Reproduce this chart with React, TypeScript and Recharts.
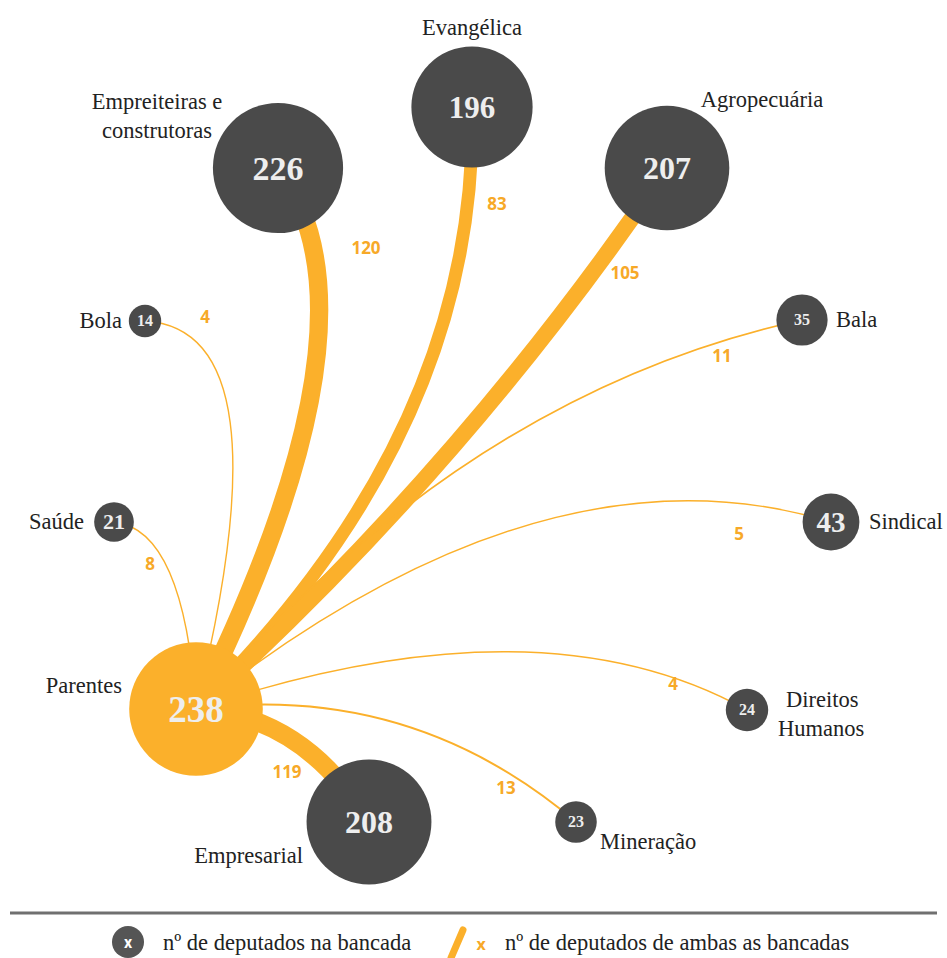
import { ComposedChart, XAxis, YAxis, ZAxis, Line, Scatter } from 'recharts'

// bancadas (node 0 is the hub "Parentes")
const names = [
  'Parentes',
  'Empreiteiras e construtoras',
  'Evangélica',
  'Agropecuária',
  'Bola',
  'Saúde',
  'Bala',
  'Sindical',
  'Direitos Humanos',
  'Mineração',
  'Empresarial',
]
const members = [238, 226, 196, 207, 14, 21, 35, 43, 24, 23, 208]
// layout of the diagram (x to the right, y downwards)
const layoutX = [196, 278, 472, 667, 145, 114, 802, 831, 747, 576, 369]
const layoutY = [709, 168, 107, 168, 321, 522, 320, 522, 710, 822, 822]

// deputies shared between Parentes and each other bancada (names[1..])
const shared = [120, 83, 105, 4, 8, 11, 5, 4, 13, 119]
// where each shared count is written
const sharedLabelX = [366, 497, 625, 205, 150, 722, 739, 673, 506, 287]
const sharedLabelY = [248, 204, 273, 317, 564, 356, 534, 684, 788, 772]

// curve shape of each link: position of the control point along the chord, and bend
const bendAlong = [0.76, 0.56, 0.5, 0.93, 0.83, 0.55, 0.62, 0.62, 0.5, 0.45]
const bendOut = [0.244, 0.214, 0.06, 0.364, 0.3, -0.167, -0.25, -0.21, -0.22, -0.26]

const ORANGE = '#fbb02b'
const LABEL_ORANGE = '#f7a928'
const DARK = '#4a4a4a'
const SERIF = '"Liberation Serif", "Times New Roman", serif'

const labelPlacement: Record<string, { anchor: string; dx: number[]; dy: number[]; lines: string[]; num: number }> = {
  Parentes: { anchor: 'end', dx: [-74], dy: [-23], lines: ['Parentes'], num: 37 },
  'Empreiteiras e construtoras': { anchor: 'middle', dx: [-121, -121], dy: [-66, -37], lines: ['Empreiteiras e', 'construtoras'], num: 34 },
  'Evangélica': { anchor: 'middle', dx: [0], dy: [-79], lines: ['Evangélica'], num: 31 },
  'Agropecuária': { anchor: 'middle', dx: [95], dy: [-68], lines: ['Agropecuária'], num: 32 },
  Bola: { anchor: 'end', dx: [-23], dy: [0], lines: ['Bola'], num: 16 },
  'Saúde': { anchor: 'end', dx: [-30], dy: [0], lines: ['Saúde'], num: 22 },
  Bala: { anchor: 'start', dx: [34], dy: [0], lines: ['Bala'], num: 16 },
  Sindical: { anchor: 'start', dx: [38], dy: [0], lines: ['Sindical'], num: 29 },
  'Direitos Humanos': { anchor: 'start', dx: [39, 31], dy: [-10, 19], lines: ['Direitos', 'Humanos'], num: 16 },
  'Mineração': { anchor: 'start', dx: [24], dy: [20], lines: ['Mineração'], num: 16 },
  Empresarial: { anchor: 'end', dx: [-66], dy: [34], lines: ['Empresarial'], num: 32 },
}

const nodes = names.map((name, i) => ({ name, x: layoutX[i], y: layoutY[i], size: members[i] }))
const links = shared.map((value, i) => ({
  value,
  along: bendAlong[i],
  out: bendOut[i],
  data: [nodes[0], nodes[i + 1]],
}))
const sharedLabels = shared.map((value, i) => ({ x: sharedLabelX[i], y: sharedLabelY[i], value }))

// quadratic curve from first to last point, bent sideways from the chord
const bentCurve = (along: number, out: number) => (context: any) => {
  let pts: number[][] = []
  return {
    areaStart() {},
    areaEnd() {},
    lineStart() {
      pts = []
    },
    point(x: number, y: number) {
      pts.push([x, y])
    },
    lineEnd() {
      if (pts.length < 2) return
      const [x0, y0] = pts[0]
      const [x1, y1] = pts[pts.length - 1]
      const dx = x1 - x0
      const dy = y1 - y0
      const len = Math.hypot(dx, dy)
      const nx = -dy / len
      const ny = dx / len
      const cx = x0 + along * dx + out * len * nx
      const cy = y0 + along * dy + out * len * ny
      context.moveTo(x0, y0)
      context.quadraticCurveTo(cx, cy, x1, y1)
    },
  }
}

const NodeShape = (props: any) => {
  const { cx, cy, payload } = props
  const r = props.width ? props.width / 2 : Math.sqrt((props.size ?? 0) / Math.PI)
  const place = labelPlacement[payload.name]
  const isHub = payload.name === names[0]
  return (
    <g>
      <circle cx={cx} cy={cy} r={r} fill={isHub ? ORANGE : DARK} />
      <text
        x={cx}
        y={cy + place.num * 0.34}
        textAnchor="middle"
        fontFamily={SERIF}
        fontWeight="bold"
        fontSize={place.num}
        fill="#eeeeee"
      >
        {payload.size}
      </text>
      {place.lines.map((line, k) => (
        <text
          key={k}
          x={cx + place.dx[k]}
          y={cy + place.dy[k] + 7}
          textAnchor={place.anchor}
          fontFamily={SERIF}
          fontSize={22.5}
          fill="#222"
        >
          {line}
        </text>
      ))}
    </g>
  )
}

const SharedLabel = (props: any) => (
  <text
    x={props.cx}
    y={props.cy + 6}
    textAnchor="middle"
    fontFamily='"Open Sans", sans-serif'
    fontWeight="bold"
    fontSize={17}
    fill={LABEL_ORANGE}
  >
    {props.payload.value}
  </text>
)

const LegendRow = () => (
  <svg width={947} height={958} style={{ position: 'absolute', left: 0, top: 0, pointerEvents: 'none' }}>
    <line x1={10} x2={937} y1={913} y2={913} stroke="#707070" strokeWidth={3} />
    <circle cx={128} cy={942} r={16} fill="#555" />
    <text x={128} y={948} textAnchor="middle" fontFamily="Roboto, sans-serif" fontWeight="bold" fontSize={16} fill="#fff">
      x
    </text>
    <text x={163} y={950} fontFamily={SERIF} fontSize={22.5} fill="#222">
      nº de deputados na bancada
    </text>
    <line x1={451} y1={958} x2={463} y2={930} stroke={ORANGE} strokeWidth={7} strokeLinecap="round" />
    <text x={481} y={950} textAnchor="middle" fontFamily='"Open Sans", sans-serif' fontWeight="bold" fontSize={16} fill={LABEL_ORANGE}>
      x
    </text>
    <text x={505} y={950} fontFamily={SERIF} fontSize={22.5} fill="#222">
      nº de deputados de ambas as bancadas
    </text>
  </svg>
)

export default function App() {
  return (
    <div style={{ position: 'absolute', left: 0, top: 0, width: 947, height: 958, background: '#fff' }}>
      <ComposedChart width={947} height={958} margin={{ top: 0, right: 0, bottom: 0, left: 0 }}>
        <XAxis type="number" dataKey="x" domain={[0, 947]} allowDataOverflow hide />
        <YAxis type="number" dataKey="y" domain={[0, 958]} allowDataOverflow reversed hide />
        <ZAxis type="number" dataKey="size" domain={[0, 238]} range={[0, 58.9 * 238]} />
        {links.map((l, i) => (
          <Line
            key={`link-${i}`}
            data={l.data}
            dataKey="y"
            type={bentCurve(l.along, l.out) as any}
            stroke={ORANGE}
            strokeWidth={Math.max(1.4, l.value * 0.155)}
            dot={false}
            activeDot={false}
            isAnimationActive={false}
          />
        ))}
        <Scatter data={nodes} shape={<NodeShape />} isAnimationActive={false} />
        <Scatter data={sharedLabels} shape={<SharedLabel />} isAnimationActive={false} />
      </ComposedChart>
      <LegendRow />
    </div>
  )
}
